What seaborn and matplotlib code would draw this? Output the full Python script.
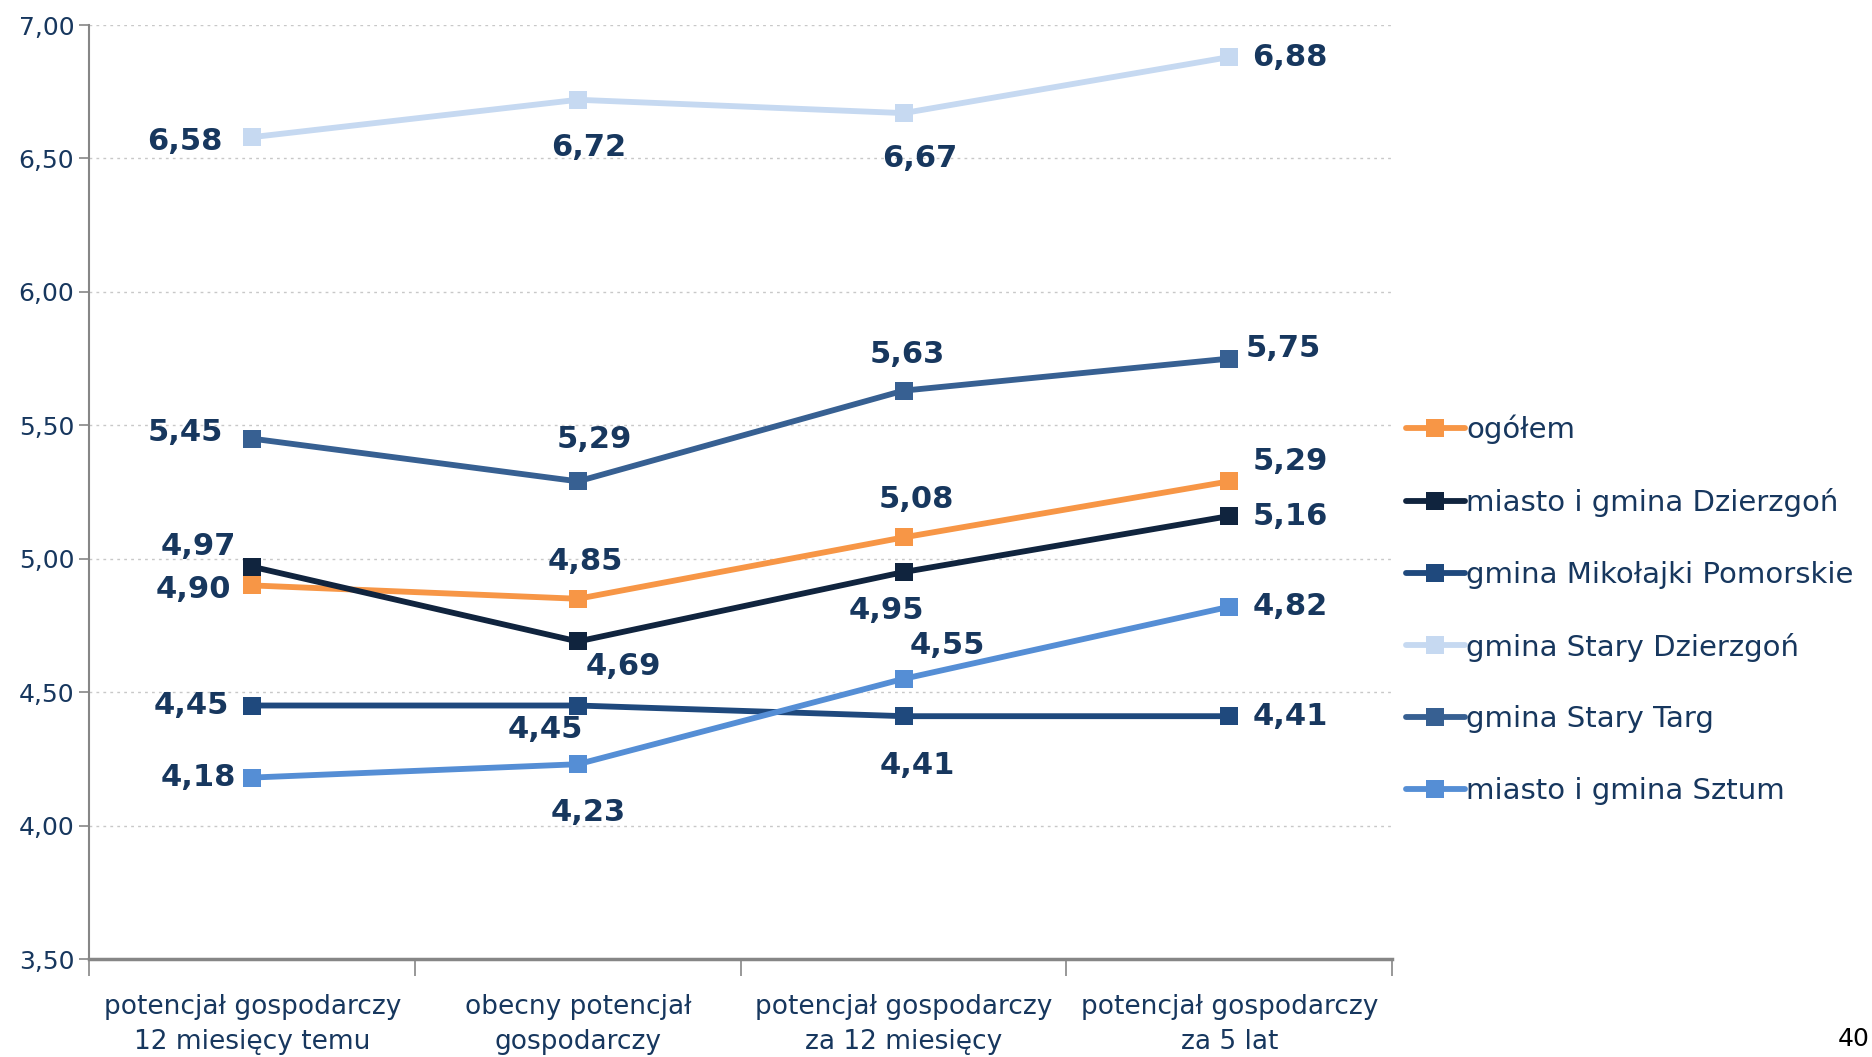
import numpy as np
import pandas as pd
import matplotlib
matplotlib.use("Agg")
import matplotlib.pyplot as plt
import seaborn as sns

# --- data ---
categories = [
    "potencjał gospodarczy\n12 miesięcy temu",
    "obecny potencjał\ngospodarczy",
    "potencjał gospodarczy\nza 12 miesięcy",
    "potencjał gospodarczy\nza 5 lat",
]
series_names = [
    "ogółem",
    "miasto i gmina Dzierzgoń",
    "gmina Mikołajki Pomorskie",
    "gmina Stary Dzierzgoń",
    "gmina Stary Targ",
    "miasto i gmina Sztum",
]
ogolem = [4.90, 4.85, 5.08, 5.29]
dzierzgon = [4.97, 4.69, 4.95, 5.16]
mikolajki = [4.45, 4.45, 4.41, 4.41]
stary_dzierzgon = [6.58, 6.72, 6.67, 6.88]
stary_targ = [5.45, 5.29, 5.63, 5.75]
sztum = [4.18, 4.23, 4.55, 4.82]

colors = ["#F79646", "#10243E", "#1F497D", "#C6D9F1", "#376092", "#558ED5"]
text_color = "#17375E"

# label offsets in pixels (dx, dy) for every point, per series
label_offsets = {
    "ogółem": [(-59, -4), (7, 37), (13, 38), (61, 20)],
    "miasto i gmina Dzierzgoń": [(-54, 20), (45, -25), (-17, -38), (61, 0)],
    "gmina Mikołajki Pomorskie": [(-61, 0), (-33, -24), (14, -49), (61, 0)],
    "gmina Stary Dzierzgoń": [(-67, -4), (11, -48), (16, -45), (61, 0)],
    "gmina Stary Targ": [(-67, 6), (16, 42), (4, 36), (54, 10)],
    "miasto i gmina Sztum": [(-54, 0), (10, -48), (44, 33), (61, 0)],
}

values = [ogolem, dzierzgon, mikolajki, stary_dzierzgon, stary_targ, sztum]
df = pd.DataFrame(
    [(s, c, v) for s, vals in zip(series_names, values) for c, v in zip(categories, vals)],
    columns=["seria", "kategoria", "wartosc"],
)

sns.set_theme(style="white")
plt.rcParams["font.family"] = ["DejaVu Sans"]

fig = plt.figure(figsize=(18.72, 10.57), dpi=100)
ax = fig.add_axes([0.0478, 0.0927, 0.6958, 0.8836])

sns.lineplot(
    data=df, x="kategoria", y="wartosc", hue="seria",
    hue_order=series_names, palette=colors,
    marker="s", markersize=13.5, markeredgewidth=0,
    linewidth=4.2, sort=False, ax=ax, legend=True,
)

# data labels
x_pos = {c: i for i, c in enumerate(categories)}
for name, vals in zip(series_names, values):
    for c, v, off in zip(categories, vals, label_offsets[name]):
        ax.annotate(
            f"{v:.2f}".replace(".", ","), (x_pos[c], v),
            xytext=off, textcoords="offset pixels",
            ha="center", va="center", fontsize=22, fontweight="bold",
            color=text_color,
        )

# axes styling
ax.set_xlim(-0.5, 3.5)
ax.set_ylim(3.5, 7.0)
yt = np.arange(3.5, 7.01, 0.5)
ax.set_yticks(yt)
ax.set_yticklabels([f"{t:.2f}".replace(".", ",") for t in yt])
ax.set_xticks(range(len(categories)))
ax.set_xticklabels(categories, linespacing=1.45)
ax.set_xticks(np.arange(-0.5, 3.6, 1.0), minor=True)
ax.set_xlabel("")
ax.set_ylabel("")

ax.yaxis.grid(True, linestyle=(0, (2, 3)), color="#C8C8C8", linewidth=1)
ax.xaxis.grid(False)
for side in ["top", "right"]:
    ax.spines[side].set_visible(False)
ax.spines["left"].set_color("#868686")
ax.spines["left"].set_linewidth(1.5)
ax.spines["bottom"].set_color("#868686")
ax.spines["bottom"].set_linewidth(2.5)

ax.tick_params(axis="y", which="major", direction="out", length=7, width=1.2,
               color="#868686", labelsize=18, labelcolor=text_color, pad=4, left=True)
ax.tick_params(axis="x", which="major", length=0, labelsize=19,
               labelcolor=text_color, pad=25)
ax.tick_params(axis="x", which="minor", direction="out", length=12, width=1.2,
               color="#868686", bottom=True)

# legend
handles, labels = ax.get_legend_handles_labels()
ax.legend_.remove()
fig.legend(
    handles, labels, loc="center left", bbox_to_anchor=(0.745, 0.423),
    frameon=False, fontsize=21, labelcolor=text_color,
    handlelength=2.0, handletextpad=0.05, labelspacing=1.5, borderaxespad=0,
)

fig.text(0.9985, 0.017, "40", ha="right", va="center", fontsize=18, color="black")

fig.savefig("out.png", dpi=100)
